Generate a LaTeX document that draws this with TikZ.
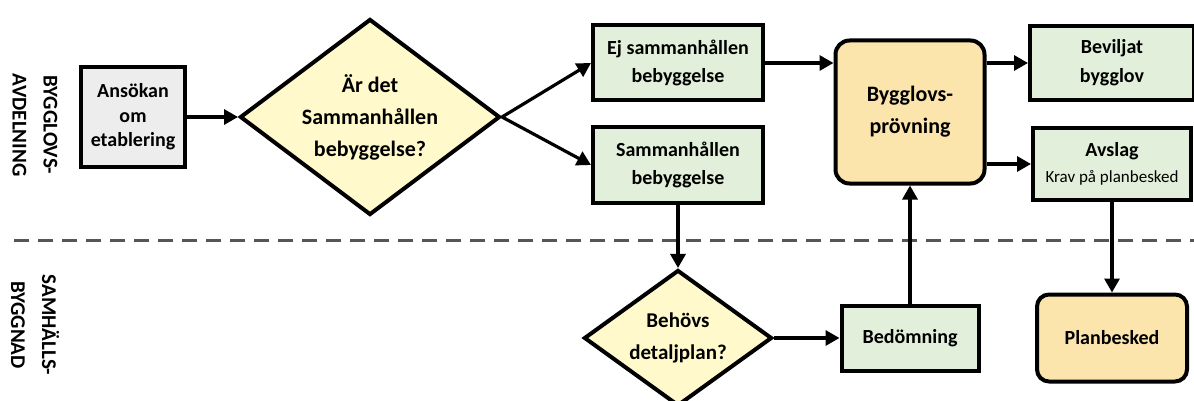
\documentclass[tikz,border=0pt]{standalone}
\usepackage{fontspec}
\setmainfont{Carlito}
\usetikzlibrary{positioning, arrows.meta, shapes.geometric}
\definecolor{boxgreen}{HTML}{E2EFDA}
\definecolor{boxgray}{HTML}{EDEDED}
\definecolor{boxyellow}{HTML}{FFF9CC}
\definecolor{boxorange}{HTML}{FCE4AD}
\definecolor{lanegray}{HTML}{555555}

\begin{document}
\begin{tikzpicture}[on grid, line width=4pt,
    box/.style={draw, rectangle, align=center, inner sep=2pt, font=\bfseries\fontsize{20}{28}\selectfont},
    greenbox/.style={box, fill=boxgreen},
    roundbox/.style={box, fill=boxorange, rounded corners=14pt},
    decision/.style={draw, diamond, fill=boxyellow, inner sep=0pt},
    qtext/.style={align=center, font=\bfseries\fontsize{22}{32}\selectfont},
    lane/.style={rotate=-90, align=center, font=\bfseries\fontsize{21}{31}\selectfont},
    flow/.style={line width=3.2pt, -{Triangle[length=14pt, width=15pt]}}]
      \useasboundingbox (0pt,0pt) rectangle (1194pt,-401pt);

      \node[box, fill=boxgray, minimum width=104pt, minimum height=99pt,
        font=\bfseries\fontsize{20}{24.5}\selectfont] (ansokan) at (133pt,-117pt) {Ansökan\\om\\etablering};
      \node[decision, minimum width=260pt, minimum height=196pt, right=237pt of ansokan] (q1) {};
      \node[qtext] (q1text) at (q1) {Är det\\Sammanhållen\\bebyggelse?};
      \node[greenbox, minimum width=170pt, minimum height=75pt, above right=54pt and 308pt of q1] (ej) {Ej sammanhållen\\bebyggelse};
      \node[greenbox, minimum width=170pt, minimum height=75pt, below=102pt of ej] (samm) {Sammanhållen\\bebyggelse};
      \node[roundbox, minimum width=149pt, minimum height=143pt, below right=49pt and 232pt of ej,
        font=\bfseries\fontsize{22}{32}\selectfont] (bygg) {Bygglovs-\\prövning};
      \node[greenbox, minimum width=164pt, minimum height=74pt, above right=49pt and 202pt of bygg,
        font=\bfseries\fontsize{20}{29}\selectfont] (bev) {Beviljat\\bygglov};
      \node[greenbox, minimum width=158pt, minimum height=72pt, below=101pt of bev,
        font=\bfseries\fontsize{20}{26}\selectfont] (avs) {Avslag\\{\mdseries\fontsize{17}{26}\selectfont Krav på planbesked}};
      \node[decision, minimum width=188pt, minimum height=136pt, below=173pt of samm] (q2) {};
      \node[qtext, font=\bfseries\fontsize{21}{32}\selectfont] (q2text) at (q2) {Behövs\\detaljplan?};
      \node[greenbox, minimum width=137pt, minimum height=65pt, below=226pt of bygg] (bed) {Bedömning};
      \node[roundbox, minimum width=150pt, minimum height=87pt, right=202pt of bed, rounded corners=12pt] (plan) {Planbesked};

      % lanes
      \node[lane, below left=8pt and 98pt of ansokan] (lane1) {BYGGLOVS-\\AVDELNING};
      \node[lane, below=200pt of lane1] (lane2) {SAMHÄLLS-\\BYGGNAD};
      \coordinate (sepL) at (14pt,-240pt);
      \coordinate (sepR) at (1194pt,-240pt);
      \draw[lanegray, line width=3pt, dash pattern=on 15pt off 9pt] (sepL) -- (sepR);

      \draw (ansokan) edge[flow] (q1);
      \draw (q1.east) edge[flow] (ej.west) edge[flow] (samm.west);
      \draw[flow] (ej) -- (ej -| bygg.west);
      \draw[flow] (bygg.east |- bev) -- (bev);
      \draw[flow] (bygg.east |- avs) -- (avs);
      \draw (avs) edge[flow] (plan);
      \draw (samm) edge[flow] (q2);
      \draw (q2) edge[flow] (bed);
      \draw (bed) edge[flow] (bygg);
\end{tikzpicture}
\end{document}
